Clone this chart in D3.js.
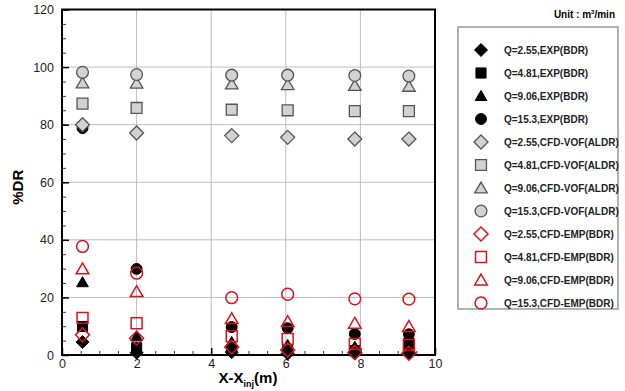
<!DOCTYPE html>
<html>
<head>
<meta charset="utf-8">
<script src="https://cdn.jsdelivr.net/npm/d3@7"></script>
<style>
  body { margin: 0; background: #fff; }
  text { font-family: "Liberation Sans", Arial, sans-serif; }
</style>
</head>
<body>
<svg id="chart"></svg>
<script>
// x positions of the measuring stations (m)
const xPos = [0.55, 2.0, 4.55, 6.05, 7.85, 9.3];

// EXP(BDR)
const expQ255 = [4.5, 0.8, 1.0, 0.5, 0.5, 0.5];
const expQ481 = [9.9, 2.5, 2.0, 1.5, 1.5, 4.1];
const expQ906 = [25.3, 6.5, 4.5, 3.5, 2.9, 2.4];
const expQ153 = [78.8, 29.9, 9.7, 9.3, 7.3, 7.2];
// CFD-VOF(ALDR)
const vofQ255 = [80.0, 77.1, 76.2, 75.6, 75.0, 75.0];
const vofQ481 = [87.3, 85.8, 85.2, 85.0, 84.7, 84.7];
const vofQ906 = [94.5, 94.4, 94.1, 93.9, 93.6, 93.3];
const vofQ153 = [98.2, 97.4, 97.2, 97.2, 97.1, 96.9];
// CFD-EMP(BDR)
const empQ255 = [7.0, 5.8, 2.8, 1.7, 0.9, 0.6];
const empQ481 = [12.9, 11.0, 6.5, 5.6, 3.8, 3.5];
const empQ906 = [29.9, 22.0, 12.6, 11.6, 11.0, 9.9];
const empQ153 = [37.7, 28.4, 19.9, 21.1, 19.5, 19.4];

const seriesLabels = [
  "Q=2.55,EXP(BDR)", "Q=4.81,EXP(BDR)", "Q=9.06,EXP(BDR)", "Q=15.3,EXP(BDR)",
  "Q=2.55,CFD-VOF(ALDR)", "Q=4.81,CFD-VOF(ALDR)", "Q=9.06,CFD-VOF(ALDR)", "Q=15.3,CFD-VOF(ALDR)",
  "Q=2.55,CFD-EMP(BDR)", "Q=4.81,CFD-EMP(BDR)", "Q=9.06,CFD-EMP(BDR)", "Q=15.3,CFD-EMP(BDR)"
];
const seriesValues = [expQ255, expQ481, expQ906, expQ153,
                      vofQ255, vofQ481, vofQ906, vofQ153,
                      empQ255, empQ481, empQ906, empQ153];
const shapes = ["diamond", "square", "triangle", "circle"];
const groups = ["exp", "vof", "emp"];

const xTicks = [0, 2, 4, 6, 8, 10];
const yTicks = [0, 20, 40, 60, 80, 100, 120];

const width = 625, height = 391;
const svg = d3.select("#chart").attr("width", width).attr("height", height);

const x = d3.scaleLinear().domain([0, 10]).range([62, 435]);
const y = d3.scaleLinear().domain([0, 120]).range([355, 9.5]);

// marker path, centred at 0,0
function markerPath(shape, s) {
  const p = d3.path();
  if (shape === "diamond") {
    p.moveTo(0, -s); p.lineTo(s, 0); p.lineTo(0, s); p.lineTo(-s, 0); p.closePath();
  } else if (shape === "square") {
    const h = s * 0.78;
    p.rect(-h, -h, 2 * h, 2 * h);
  } else if (shape === "triangle") {
    const w = s * 0.9;
    p.moveTo(0, -s * 0.85); p.lineTo(w, s * 0.7); p.lineTo(-w, s * 0.7); p.closePath();
  } else {
    p.arc(0, 0, s * 0.84, 0, 2 * Math.PI);
  }
  return p.toString();
}

const styles = {
  exp: { fill: "#000", stroke: "#000", sw: 1 },
  vof: { fill: "#d2d2d2", stroke: "#555", sw: 1.3 },
  emp: { fill: "none", stroke: "#d9131b", sw: 1.5 }
};

//grid
const grid = svg.append("g").attr("class", "grid");
grid.selectAll("line.gx").data(xTicks.slice(1, -1)).enter().append("line")
  .attr("x1", d => x(d)).attr("x2", d => x(d))
  .attr("y1", y(0)).attr("y2", y(120))
  .attr("stroke", "#bdbdbd").attr("stroke-width", 1);
grid.selectAll("line.gy").data(yTicks.slice(1, -1)).enter().append("line")
  .attr("x1", x(0)).attr("x2", x(10))
  .attr("y1", d => y(d)).attr("y2", d => y(d))
  .attr("stroke", "#bdbdbd").attr("stroke-width", 1);

//minor ticks
svg.append("g")
  .attr("transform", `translate(0, ${y(0)})`)
  .call(d3.axisBottom(x).tickValues(d3.range(0, 10.01, 0.5)).tickSize(-4).tickFormat(""))
  .call(g => g.select(".domain").remove())
  .selectAll("line").attr("stroke", "#333");
svg.append("g")
  .attr("transform", `translate(${x(0)}, 0)`)
  .call(d3.axisLeft(y).tickValues(d3.range(0, 120.01, 5)).tickSize(-4).tickFormat(""))
  .call(g => g.select(".domain").remove())
  .selectAll("line").attr("stroke", "#333");

//major axes
const xAxis = svg.append("g")
  .attr("transform", `translate(0, ${y(0)})`)
  .call(d3.axisBottom(x).tickValues(xTicks).tickSizeInner(-7).tickSizeOuter(0).tickPadding(4));
xAxis.select(".domain").remove();
xAxis.selectAll("line").attr("stroke", "#000").attr("stroke-width", 1.5);
xAxis.selectAll("text").style("font-size", "12.5px").attr("fill", "#222")
  .style("font-family", "'Liberation Sans', Arial, sans-serif");

const yAxis = svg.append("g")
  .attr("transform", `translate(${x(0)}, 0)`)
  .call(d3.axisLeft(y).tickValues(yTicks).tickSizeInner(-7).tickSizeOuter(0).tickPadding(8));
yAxis.select(".domain").remove();
yAxis.selectAll("line").attr("stroke", "#000").attr("stroke-width", 1.5);
yAxis.selectAll("text").style("font-size", "12.5px").attr("fill", "#222")
  .style("font-family", "'Liberation Sans', Arial, sans-serif");

//frame
svg.append("rect")
  .attr("x", x(0)).attr("y", y(120))
  .attr("width", x(10) - x(0)).attr("height", y(0) - y(120))
  .attr("fill", "none").attr("stroke", "#000").attr("stroke-width", 2);

//markers
seriesValues.forEach((vals, i) => {
  const shape = shapes[i % 4];
  const st = styles[groups[Math.floor(i / 4)]];
  const size = groups[Math.floor(i / 4)] === "exp" ? 6.5 : 7;
  svg.append("g").selectAll("path").data(vals).enter().append("path")
    .attr("d", markerPath(shape, size))
    .attr("transform", (d, j) => `translate(${x(xPos[j])}, ${y(d)})`)
    .attr("fill", st.fill).attr("stroke", st.stroke).attr("stroke-width", st.sw);
});

//axis titles
svg.append("text")
  .attr("transform", `translate(23, ${y(60) + 5}) rotate(-90)`)
  .attr("text-anchor", "middle")
  .style("font-size", "15px").style("font-weight", "bold")
  .text("%DR");

const xt = svg.append("text")
  .attr("x", 248).attr("y", 383)
  .attr("text-anchor", "middle")
  .style("font-size", "15px").style("font-weight", "bold");
xt.append("tspan").text("X-X");
xt.append("tspan").attr("dy", 4).style("font-size", "9px").text("inj");
xt.append("tspan").attr("dy", -4).text("(m)");

//legend
const legX = 458, legY = 27, legW = 160, legH = 282;
svg.append("rect")
  .attr("x", legX).attr("y", legY).attr("width", legW).attr("height", legH)
  .attr("fill", "#fff").attr("stroke", "#9a9a9a").attr("stroke-width", 1.5);

const unit = svg.append("text")
  .attr("x", 615).attr("y", 18).attr("text-anchor", "end")
  .style("font-size", "10px").style("font-weight", "bold");
unit.append("tspan").text("Unit : m");
unit.append("tspan").attr("dy", -4).style("font-size", "6px").text("3");
unit.append("tspan").attr("dy", 4).text("/min");

const rowY = i => 50 + i * 23;
const leg = svg.append("g").selectAll("g").data(seriesLabels).enter().append("g")
  .attr("transform", (d, i) => `translate(0, ${rowY(i)})`);
leg.append("path")
  .attr("transform", "translate(481, 0)")
  .attr("d", (d, i) => markerPath(shapes[i % 4], groups[Math.floor(i / 4)] === "exp" ? 6.5 : 7))
  .attr("fill", (d, i) => styles[groups[Math.floor(i / 4)]].fill)
  .attr("stroke", (d, i) => styles[groups[Math.floor(i / 4)]].stroke)
  .attr("stroke-width", (d, i) => styles[groups[Math.floor(i / 4)]].sw);
leg.append("text")
  .attr("x", 504).attr("y", 3.5)
  .style("font-size", "10px").style("font-weight", "bold").attr("fill", "#222")
  .text(d => d);
</script>
</body>
</html>
